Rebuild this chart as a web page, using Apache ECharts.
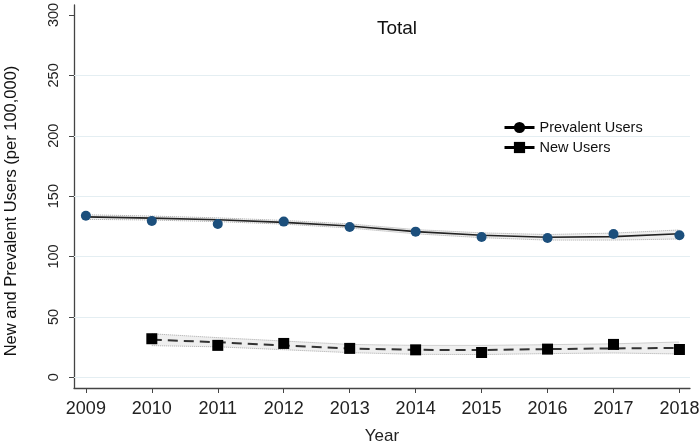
<!DOCTYPE html>
<html>
<head>
<meta charset="utf-8">
<script src="https://cdn.jsdelivr.net/npm/echarts@6/dist/echarts.min.js"></script>
<style>html,body{margin:0;padding:0;background:#fff}#c{width:700px;height:443px}</style>
</head>
<body>
<div id="c"></div>
<script>
const years = [2009, 2010, 2011, 2012, 2013, 2014, 2015, 2016, 2017, 2018];
const yTicks = [0, 50, 100, 150, 200, 250, 300];
const gridValues = [0, 50, 100, 150, 200, 250];

const prevalentObserved = [133.8, 129.4, 126.9, 128.9, 124.4, 120.6, 116.2, 115.4, 118.6, 117.6];
const prevalentFitted   = [132.8, 131.8, 130.4, 128.3, 125.3, 120.6, 117.6, 115.9, 116.5, 118.9];
const prevalentLower    = [130.8, 130.2, 128.9, 126.8, 123.6, 118.8, 115.6, 113.6, 113.6, 114.5];
const prevalentUpper    = [134.6, 133.5, 132.0, 129.9, 127.0, 122.3, 119.6, 118.2, 119.4, 122.0];

const newYears    = [2010, 2011, 2012, 2013, 2014, 2015, 2016, 2017, 2018];
const newObserved = [31.9, 26.4, 28.0, 23.9, 22.7, 20.5, 23.3, 27.2, 23.0];
const newFitted   = [31.1, 29.0, 26.4, 23.8, 22.7, 22.6, 23.3, 23.9, 24.3];
const newLower    = [26.2, 25.2, 22.8, 20.4, 19.0, 18.8, 19.6, 20.1, 19.3];
const newUpper    = [36.0, 32.8, 30.0, 27.2, 26.4, 26.4, 27.0, 27.7, 29.2];

const pairs = (xs, vs) => xs.map((x, i) => [x, vs[i]]);
const bandRows = (xs, lo, hi) => xs.map((x, i) => [x, lo[i], hi[i]]);

const FONT = 'Liberation Sans, Arial, sans-serif';
const bandLine = { color: '#a8a8a8', type: 'dotted', width: 1 };
const bandFill = 'rgba(150,150,150,0.15)';

function bandSeries(name, rows) {
  return {
    name: name, type: 'custom', silent: true, z: 1,
    data: rows,
    encode: { x: 0, y: [1, 2] },
    renderItem: function (params, api) {
      const i = params.dataIndex;
      if (i >= rows.length - 1) return null;
      const a = rows[i], b = rows[i + 1];
      const p1 = api.coord([a[0], a[1]]);
      const p2 = api.coord([b[0], b[1]]);
      const p3 = api.coord([b[0], b[2]]);
      const p4 = api.coord([a[0], a[2]]);
      return {
        type: 'polygon',
        shape: { points: [p1, p2, p3, p4] },
        style: { fill: bandFill, stroke: null }
      };
    }
  };
}
function dottedLine(name, xs, vs) {
  return { name: name, type: 'line', data: pairs(xs, vs), symbol: 'none', lineStyle: bandLine, silent: true, z: 2 };
}

const chart = echarts.init(document.getElementById('c'), null, { renderer: 'canvas' });
chart.setOption({
  animation: false,
  backgroundColor: '#fff',
  title: {
    text: 'Total', left: 392, top: 14, textAlign: 'center',
    textStyle: { fontFamily: FONT, fontSize: 19, fontWeight: 'normal', color: '#111' }
  },
  legend: {
    orient: 'vertical', left: 498, top: 115, itemWidth: 30, itemHeight: 14, itemGap: 5,
    textStyle: { fontFamily: FONT, fontSize: 14.5, color: '#111' },
    data: [
      { name: 'Prevalent Users', itemStyle: { color: '#000' }, lineStyle: { color: '#000', width: 3, type: 'solid' } },
      { name: 'New Users', itemStyle: { color: '#000' }, lineStyle: { color: '#000', width: 3, type: 'solid' } }
    ]
  },
  grid: { left: 74, right: 10, top: 5, bottom: 55, containLabel: false, outerBoundsMode: 'none' },
  xAxis: {
    type: 'value', min: 2008.82, max: 2018.16,
    splitLine: { show: false },
    axisLine: { onZero: false, lineStyle: { color: '#444', width: 1.3 } },
    axisTick: { show: true, length: 5, customValues: years, lineStyle: { color: '#444' } },
    axisLabel: { customValues: years, margin: 12, fontFamily: FONT, fontSize: 18, color: '#222', formatter: v => String(v) },
    name: 'Year', nameLocation: 'middle', nameGap: 40,
    nameTextStyle: { fontFamily: FONT, fontSize: 17, color: '#222' }
  },
  yAxis: {
    type: 'value', min: -8.9, max: 308.3,
    splitLine: { show: false },
    axisLine: { show: true, onZero: false, lineStyle: { color: '#444', width: 1.3 } },
    axisTick: { show: true, length: 5, customValues: yTicks, lineStyle: { color: '#444' } },
    axisLabel: { customValues: yTicks, rotate: 90, margin: 13, fontFamily: FONT, fontSize: 14.5, color: '#222' }
  },
  graphic: [{
    type: 'text', x: 11, y: 211, rotation: Math.PI / 2,
    style: { text: 'New and Prevalent Users (per 100,000)', fill: '#111', font: '16.5px ' + FONT, align: 'center', verticalAlign: 'middle' }
  }],
  series: [
    {
      name: 'grid', type: 'line', data: [], silent: true,
      markLine: {
        silent: true, symbol: 'none', label: { show: false },
        lineStyle: { color: '#e4eef2', type: 'solid', width: 1 },
        data: gridValues.map(v => ({ yAxis: v }))
      }
    },
    bandSeries('pBand', bandRows(years, prevalentLower, prevalentUpper)),
    bandSeries('nBand', bandRows(newYears, newLower, newUpper)),
    dottedLine('pLo', years, prevalentLower),
    dottedLine('pHi', years, prevalentUpper),
    dottedLine('nLo', newYears, newLower),
    dottedLine('nHi', newYears, newUpper),
    {
      name: 'Prevalent Users', type: 'line', data: pairs(years, prevalentFitted),
      symbol: 'circle', symbolSize: 10, showSymbol: false,
      itemStyle: { color: '#000' }, lineStyle: { color: '#222', width: 1.6 }, z: 3
    },
    {
      name: 'New Users', type: 'line', data: pairs(newYears, newFitted),
      symbol: 'rect', symbolSize: 10, showSymbol: false,
      itemStyle: { color: '#000' }, lineStyle: { color: '#333', width: 2, type: [10, 6] }, z: 3
    },
    {
      name: 'Prevalent observed', type: 'scatter', data: pairs(years, prevalentObserved),
      symbol: 'circle', symbolSize: 10, itemStyle: { color: '#1c4f7c', opacity: 1 }, z: 5
    },
    {
      name: 'New observed', type: 'scatter', data: pairs(newYears, newObserved),
      symbol: 'rect', symbolSize: 11, itemStyle: { color: '#000', opacity: 1 }, z: 5
    }
  ]
});
</script>
</body>
</html>
